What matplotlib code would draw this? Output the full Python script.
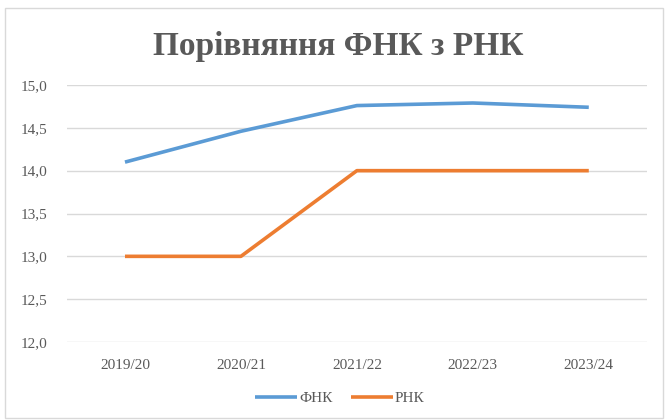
import matplotlib
matplotlib.use("Agg")
import matplotlib.pyplot as plt
from matplotlib.patches import Rectangle
from matplotlib.ticker import FuncFormatter

categories = ["2019/20", "2020/21", "2021/22", "2022/23", "2023/24"]
fnk = [14.10, 14.46, 14.76, 14.79, 14.74]
rnk = [13.0, 13.0, 14.0, 14.0, 14.0]
title = "Порівняння ФНК з РНК"

plt.rcParams['font.family'] = ['Liberation Serif', 'DejaVu Serif']

fig = plt.figure(figsize=(6.66, 4.2), dpi=100)
ax = fig.add_axes([0.1006, 0.1857, 0.8705, 0.6119])

x = list(range(len(categories)))
ax.plot(x, fnk, color="#5B9BD5", lw=2.6, label="ФНК", solid_capstyle="butt")
ax.plot(x, rnk, color="#ED7D31", lw=2.6, label="РНК", solid_capstyle="butt")

ax.set_xlim(-0.5, len(categories) - 0.5)
ax.set_ylim(12.0, 15.0)
ax.set_yticks([12.0, 12.5, 13.0, 13.5, 14.0, 14.5, 15.0])
ax.yaxis.set_major_formatter(FuncFormatter(lambda v, p: f"{v:.1f}".replace(".", ",")))
ax.set_xticks(x)
ax.set_xticklabels(categories)
ax.grid(axis="y", color="#D9D9D9", lw=1.0)
ax.set_axisbelow(True)
for s in ax.spines.values():
    s.set_visible(False)
ax.tick_params(length=0, labelsize=11, labelcolor="#595959")
ax.tick_params(axis="x", pad=12)
ax.tick_params(axis="y", pad=14)

fig.text(0.508, 0.89, title, ha="center", va="center", fontsize=24,
         fontweight="bold", color="#595959")

leg = fig.legend(loc="center", bbox_to_anchor=(0.51, 0.052), ncol=2, frameon=False,
                 fontsize=11, handlelength=2.8, columnspacing=1.2, handletextpad=0.1)
for t in leg.get_texts():
    t.set_color("#595959")

fig.patches.append(Rectangle((0.008, 0.004), 0.988, 0.977, transform=fig.transFigure,
                             fill=False, edgecolor="#D9D9D9", lw=1.0))

fig.savefig("out.png", dpi=100)
